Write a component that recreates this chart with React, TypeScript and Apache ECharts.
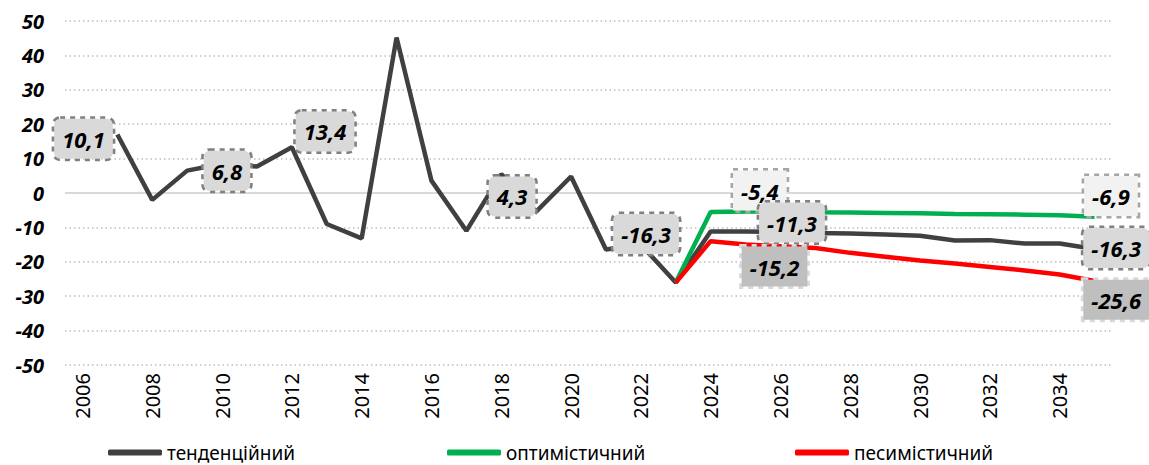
import React, { useEffect, useRef } from "react";
import * as echarts from "echarts";

const years = [
  "2006", "2007", "2008", "2009", "2010", "2011", "2012", "2013", "2014", "2015",
  "2016", "2017", "2018", "2019", "2020", "2021", "2022", "2023", "2024", "2025",
  "2026", "2027", "2028", "2029", "2030", "2031", "2032", "2033", "2034", "2035",
];

const tendency = [
  null, 17.0, -2.0, 6.5, 8.5, 7.7, 13.3, -9.0, -13.2, 45.2,
  3.6, -11.0, 5.5, -5.4, 4.8, -16.4, -15.0, -26.0, -11.2, -11.2,
  -11.3, -11.6, -11.8, -12.1, -12.4, -13.8, -13.7, -14.7, -14.7, -16.3,
];

const optimistic = [
  null, null, null, null, null, null, null, null, null, null,
  null, null, null, null, null, null, null, -26.0, -5.5, -5.4,
  -5.4, -5.6, -5.7, -5.8, -5.9, -6.1, -6.2, -6.3, -6.5, -6.9,
];

const pessimistic = [
  null, null, null, null, null, null, null, null, null, null,
  null, null, null, null, null, null, null, -26.0, -14.0, -15.0,
  -15.5, -16.0, -17.4, -18.5, -19.6, -20.5, -21.5, -22.5, -23.7, -25.6,
];

const seriesNames = ["тенденційний", "оптимістичний", "песимістичний"];

// annotation callouts: text, position (category index, value), style kind
const annTexts = ["10,1", "6,8", "13,4", "4,3", "-16,3", "-5,4", "-11,3", "-15,2", "-6,9", "-16,3", "-25,6"];
const annX = [0.03, 4.14, 6.95, 12.31, 16.15, 19.41, 20.33, 19.83, 29.47, 29.62, 29.62];
const annY = [15.8, 6.5, 17.9, -1.0, -11.9, 0.7, -8.6, -21.4, -0.9, -16.0, -31.0];
const annKind = ["t", "t", "t", "t", "t", "o", "t", "p", "o", "t", "p"];

const FONT = "'Noto Sans', 'DejaVu Sans', sans-serif";

const boxStyles: Record<string, any> = {
  t: { backgroundColor: "#d9d9d9", borderColor: "#808080", borderRadius: 6 },
  o: { backgroundColor: "#f2f2f2", borderColor: "#a6a6a6", borderRadius: 0 },
  p: { backgroundColor: "#bfbfbf", borderColor: "#d9d9d9", borderRadius: 0 },
};

export default function App() {
  const ref = useRef<HTMLDivElement>(null);

  useEffect(() => {
    if (!ref.current) return;
    const chart = echarts.init(ref.current, undefined, { renderer: "svg" });

    const annData = annTexts.map((t, i) => {
      const s = boxStyles[annKind[i]];
      return {
        value: [annX[i], annY[i]],
        name: t,
        label: {
          show: true,
          position: "inside",
          formatter: t,
          fontFamily: FONT,
          fontSize: 22,
          fontWeight: "bold",
          fontStyle: "italic",
          color: "#000",
          backgroundColor: s.backgroundColor,
          borderColor: s.borderColor,
          borderWidth: 2.5,
          borderType: "dotted",
          borderRadius: s.borderRadius,
          padding: [7, 8, 7, 8],
          lineHeight: 26,
        },
      };
    });

    const legendBase = {
      top: 442,
      padding: 0,
      itemWidth: 54,
      itemHeight: 6,
      icon: "roundRect",
      textStyle: { fontFamily: FONT, fontSize: 19, lineHeight: 21, color: "#000" },
    };

    chart.setOption({
      animation: false,
      grid: { left: 65, right: 37, top: 21, bottom: 100, containLabel: false },
      legend: [
        { ...legendBase, left: 108, data: [seriesNames[0]] },
        { ...legendBase, left: 447, data: [seriesNames[1]] },
        { ...legendBase, left: 795, data: [seriesNames[2]] },
      ],
      xAxis: [
        {
          type: "category",
          data: years,
          boundaryGap: true,
          axisLine: { show: false },
          axisTick: { show: false },
          splitLine: { show: false },
          axisLabel: {
            interval: 1,
            rotate: 90,
            margin: 8,
            fontFamily: FONT,
            fontSize: 20,
            color: "#000",
          },
        },
        { type: "value", min: -0.5, max: 29.5, show: false },
      ],
      yAxis: {
        type: "value",
        min: -50,
        max: 50,
        interval: 10,
        axisLine: { show: false },
        axisTick: { show: false },
        axisLabel: {
          margin: 21,
          fontFamily: FONT,
          fontSize: 20,
          fontWeight: "bold",
          fontStyle: "italic",
          color: "#000",
        },
        splitLine: {
          lineStyle: { color: "#bfbfbf", type: [1.5, 3], width: 1.5 },
        },
      },
      series: [
        {
          name: seriesNames[0],
          type: "line",
          data: tendency,
          showSymbol: false,
          symbol: "none",
          lineStyle: { color: "#404040", width: 4.5 },
          itemStyle: { color: "#404040" },
          z: 3,
          markLine: {
            silent: true,
            z: 2,
            symbol: ["none", "none"],
            label: { show: false },
            lineStyle: { color: "#d9d9d9", type: "solid", width: 2 },
            data: [{ yAxis: 0 }],
          },
        },
        {
          name: seriesNames[1],
          type: "line",
          data: optimistic,
          showSymbol: false,
          symbol: "none",
          lineStyle: { color: "#00b050", width: 4.5 },
          itemStyle: { color: "#00b050" },
          z: 4,
        },
        {
          name: seriesNames[2],
          type: "line",
          data: pessimistic,
          showSymbol: false,
          symbol: "none",
          lineStyle: { color: "#ff0000", width: 4.5 },
          itemStyle: { color: "#ff0000" },
          z: 5,
        },
        {
          name: "labels",
          type: "scatter",
          xAxisIndex: 1,
          yAxisIndex: 0,
          symbolSize: 1,
          itemStyle: { color: "rgba(0,0,0,0)", opacity: 1 },
          clip: false,
          silent: true,
          z: 10,
          data: annData,
        },
      ],
    });

    return () => chart.dispose();
  }, []);

  return (
    <div
      ref={ref}
      style={{ position: "fixed", left: 0, top: 0, width: 1149, height: 465, background: "#fff" }}
    />
  );
}
